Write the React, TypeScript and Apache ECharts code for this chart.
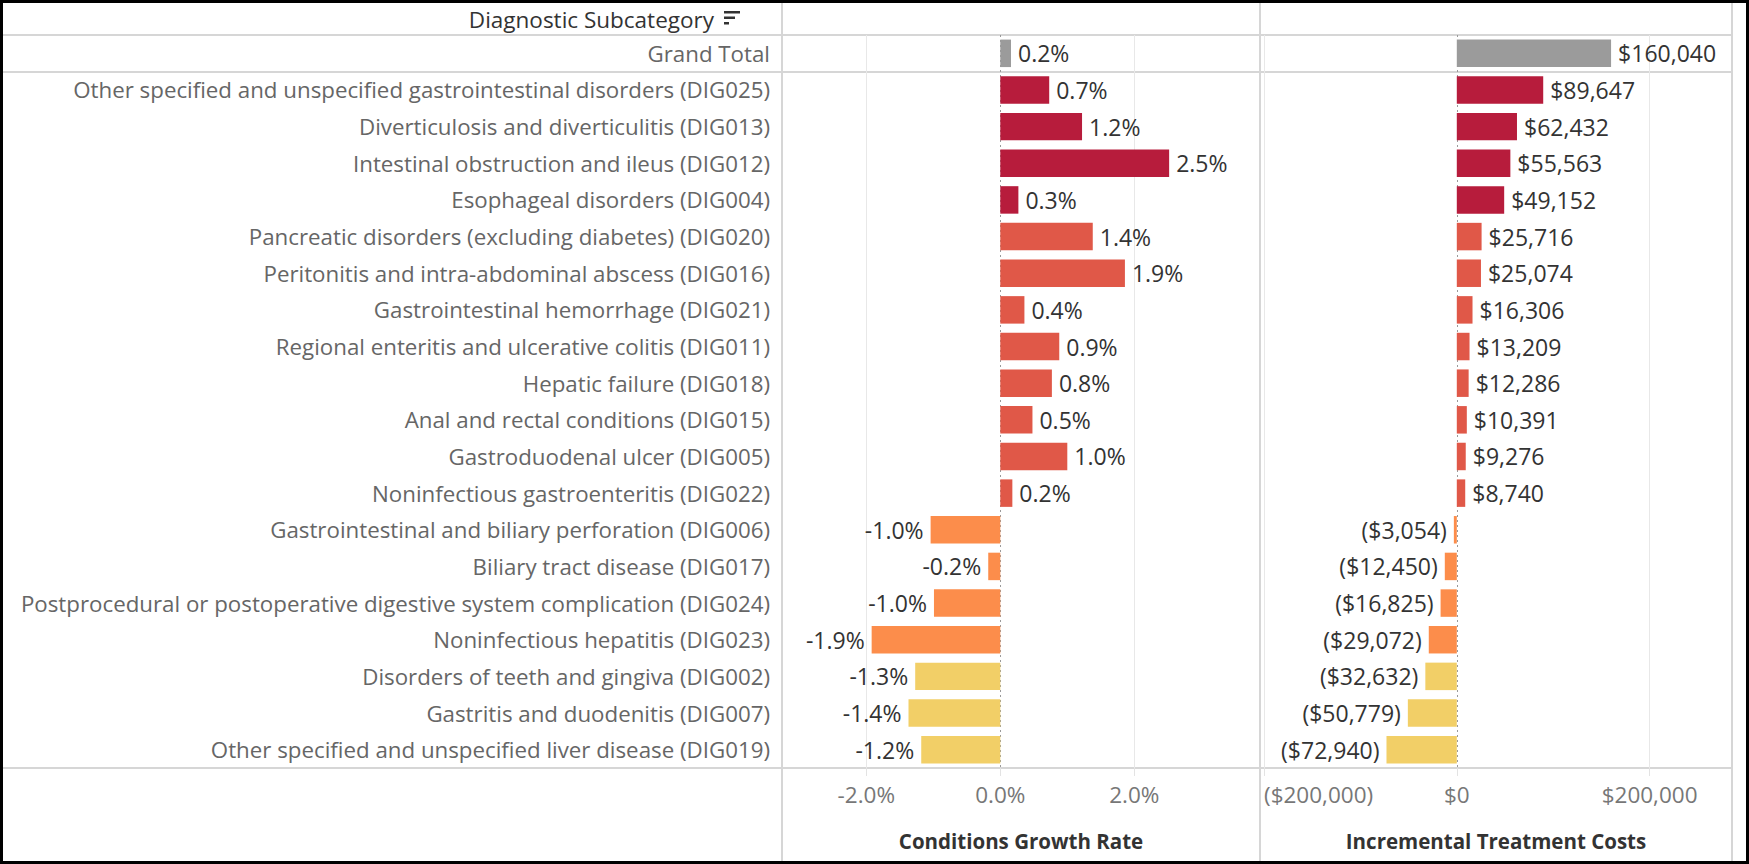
import React, { useEffect, useRef } from "react";
import * as echarts from "echarts";

const FONT = "'Open Sans', 'Noto Sans', sans-serif";

const categories = [
  "Grand Total",
  "Other specified and unspecified gastrointestinal disorders (DIG025)",
  "Diverticulosis and diverticulitis (DIG013)",
  "Intestinal obstruction and ileus (DIG012)",
  "Esophageal disorders (DIG004)",
  "Pancreatic disorders (excluding diabetes) (DIG020)",
  "Peritonitis and intra-abdominal abscess (DIG016)",
  "Gastrointestinal hemorrhage (DIG021)",
  "Regional enteritis and ulcerative colitis (DIG011)",
  "Hepatic failure (DIG018)",
  "Anal and rectal conditions (DIG015)",
  "Gastroduodenal ulcer (DIG005)",
  "Noninfectious gastroenteritis (DIG022)",
  "Gastrointestinal and biliary perforation (DIG006)",
  "Biliary tract disease (DIG017)",
  "Postprocedural or postoperative digestive system complication (DIG024)",
  "Noninfectious hepatitis (DIG023)",
  "Disorders of teeth and gingiva (DIG002)",
  "Gastritis and duodenitis (DIG007)",
  "Other specified and unspecified liver disease (DIG019)",
];

// Conditions growth rate (%)
const growthRate = [
  0.16, 0.73, 1.22, 2.52, 0.27, 1.38, 1.86, 0.36, 0.88, 0.77, 0.48, 1.0, 0.18,
  -1.04, -0.18, -0.99, -1.92, -1.27, -1.37, -1.18,
];

// Incremental treatment costs ($)
const treatmentCosts = [
  160040, 89647, 62432, 55563, 49152, 25716, 25074, 16306, 13209, 12286, 10391,
  9276, 8740, -3054, -12450, -16825, -29072, -32632, -50779, -72940,
];

// colour tier of each row (0 = grand total)
const tier = [0, 1, 1, 1, 1, 2, 2, 2, 2, 2, 2, 2, 2, 3, 3, 3, 3, 4, 4, 4];

const growthTicks = [-2, 0, 2];
const costTicks = [-200000, 0, 200000];

const palette = ["#9b9b9b", "#b71c3c", "#e05848", "#fc8d4b", "#f2cf67"];

const fmtPct = (v: number) => v.toFixed(1) + "%";
const fmtUsd = (v: number) => {
  const s = "$" + Math.abs(Math.round(v)).toLocaleString("en-US");
  return v < 0 ? "(" + s + ")" : s;
};

const GRID_TOP = 35;
const GRID_BOTTOM = 768;
const COL_X = 782;
const MID_X = 1260;
const RIGHT_X = 1732;

const lineColor = "#d6d6d6";

export default function App() {
  const ref = useRef<HTMLDivElement>(null);

  useEffect(() => {
    if (!ref.current) return;
    const chart = echarts.init(ref.current, undefined, { renderer: "svg" });

    const gridMarks = (ticks: number[]) => ({
      silent: true,
      symbol: "none",
      z: 1,
      label: { show: false },
      data: ticks.map((t) => ({
        xAxis: t,
        lineStyle:
          t === 0
            ? { color: "#9a9a9a", type: [2, 3], width: 1 }
            : { color: "#e8e8e8", type: "solid", width: 1 },
      })),
    });

    const barItems = (vals: number[]) =>
      vals.map((v, i) => ({
        value: v,
        itemStyle: { color: palette[tier[i]] },
        label: { position: v < 0 ? "left" : "right" },
      }));

    const commonX = {
      type: "value",
      splitLine: { show: false },
      axisLine: { show: false },
      nameLocation: "middle",
      nameGap: 62,
      nameTextStyle: {
        fontWeight: "bold",
        fontSize: 20.5,
        color: "#333333",
        fontFamily: FONT,
      },
    };

    const option: any = {
      animation: false,
      textStyle: { fontFamily: FONT },
      grid: [
        {
          left: COL_X,
          top: GRID_TOP,
          width: MID_X - COL_X,
          height: GRID_BOTTOM - GRID_TOP,
          outerBoundsMode: "none",
        },
        {
          left: MID_X,
          top: GRID_TOP,
          width: RIGHT_X - MID_X,
          height: GRID_BOTTOM - GRID_TOP,
          outerBoundsMode: "none",
        },
      ],
      xAxis: [
        {
          ...commonX,
          gridIndex: 0,
          min: -3.258,
          max: 3.876,
          name: "Conditions Growth Rate",
          axisTick: {
            show: true,
            customValues: growthTicks,
            length: 8,
            lineStyle: { color: "#e3e3e3" },
          },
          axisLabel: {
            customValues: growthTicks,
            formatter: (v: number) => fmtPct(v),
            margin: 15,
            fontSize: 22.5,
            color: "#777777",
            fontFamily: FONT,
          },
        },
        {
          ...commonX,
          gridIndex: 1,
          min: -204150,
          max: 285480,
          name: "Incremental Treatment Costs",
          axisTick: {
            show: true,
            customValues: costTicks,
            length: 8,
            lineStyle: { color: "#e3e3e3" },
          },
          axisLabel: {
            customValues: costTicks,
            formatter: (v: number) => fmtUsd(v),
            alignMinLabel: "left",
            margin: 15,
            fontSize: 22.5,
            color: "#777777",
            fontFamily: FONT,
          },
        },
      ],
      yAxis: [
        {
          gridIndex: 0,
          type: "category",
          data: categories,
          inverse: true,
          axisLine: { show: false },
          axisTick: { show: false },
          splitLine: { show: false },
          axisLabel: {
            interval: 0,
            margin: 12,
            fontSize: 22.3,
            color: "#666666",
            fontFamily: FONT,
          },
        },
        {
          gridIndex: 1,
          type: "category",
          data: categories,
          inverse: true,
          axisLine: { show: false },
          axisTick: { show: false },
          splitLine: { show: false },
          axisLabel: { show: false },
        },
      ],
      series: [
        {
          type: "bar",
          xAxisIndex: 0,
          yAxisIndex: 0,
          barCategoryGap: "25%",
          data: barItems(growthRate),
          label: {
            show: true,
            formatter: (p: any) => fmtPct(p.value),
            distance: 7,
            fontSize: 23,
            color: "#333333",
            fontFamily: FONT,
          },
          markLine: gridMarks(growthTicks),
        },
        {
          type: "bar",
          xAxisIndex: 1,
          yAxisIndex: 1,
          barCategoryGap: "25%",
          data: barItems(treatmentCosts),
          label: {
            show: true,
            formatter: (p: any) => fmtUsd(p.value),
            distance: 7,
            fontSize: 23,
            color: "#333333",
            fontFamily: FONT,
          },
          markLine: gridMarks(costTicks),
        },
      ],
      graphic: [
        // table frame lines
        ...[GRID_TOP, 72, GRID_BOTTOM].map((y) => ({
          type: "line",
          silent: true,
          z: 0,
          shape: { x1: 3, y1: y, x2: RIGHT_X, y2: y },
          style: { stroke: lineColor, lineWidth: 2 },
        })),
        ...[COL_X, MID_X, RIGHT_X].map((x) => ({
          type: "line",
          silent: true,
          z: 0,
          shape: { x1: x, y1: 3, x2: x, y2: 861 },
          style: { stroke: lineColor, lineWidth: 2 },
        })),
        {
          type: "text",
          silent: true,
          x: 714,
          y: 19,
          style: {
            text: "Diagnostic Subcategory",
            align: "right",
            verticalAlign: "middle",
            fontSize: 22.5,
            fontFamily: FONT,
            fill: "#333333",
          },
        },
        {
          type: "group",
          silent: true,
          children: [
            { type: "rect", shape: { x: 724, y: 11, width: 16, height: 2.5 }, style: { fill: "#333333" } },
            { type: "rect", shape: { x: 724, y: 16.5, width: 11, height: 2.5 }, style: { fill: "#333333" } },
            { type: "rect", shape: { x: 724, y: 22, width: 5, height: 2.5 }, style: { fill: "#333333" } },
          ],
        },
        {
          type: "rect",
          silent: true,
          z: 10,
          shape: { x: 1.5, y: 1.5, width: 1746, height: 861 },
          style: { fill: "none", stroke: "#000000", lineWidth: 3 },
        },
      ],
    };

    chart.setOption(option);
    return () => chart.dispose();
  }, []);

  return (
    <div
      ref={ref}
      style={{
        position: "absolute",
        left: 0,
        top: 0,
        width: "1749px",
        height: "864px",
        background: "#ffffff",
      }}
    />
  );
}
